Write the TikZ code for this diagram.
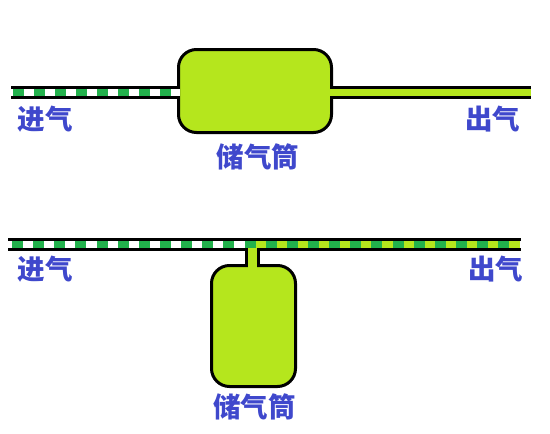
\documentclass[tikz,border=0pt]{standalone}
\usepackage{fontspec}
\newfontfamily\cjk{Noto Sans CJK SC}
\usepackage{tikz}
\definecolor{gasgreen}{HTML}{22B14C}
\definecolor{tankfill}{HTML}{B5E61D}
\definecolor{labelblue}{HTML}{3F48CC}
\tikzset{
	pipewall/.style={line width=3pt},
	tankbox/.style={draw, line width=3pt, fill=tankfill, rounded corners=18pt},
	gaslabel/.style={text=labelblue, inner sep=0pt, font=\cjk\bfseries\fontsize{27.5}{27.5}\selectfont}
}

\begin{document}
\begin{tikzpicture}[x=1pt,y=-1pt]
	\useasboundingbox (0,0) rectangle (550,434);
	
	% Upper layout: pipe through the tank
	\coordinate (inA) at (11,87.5);
	\coordinate (inB) at (11,97.5);
	\coordinate (outA) at (531,87.5);
	\coordinate (outB) at (531,97.5);
	\fill[tankfill] (255,89) rectangle (531,96);
	\foreach \x in {13,34,55,76,97,118,139,160}
		\fill[gasgreen] (\x,89) rectangle +(11,7);
	\draw[pipewall] (inA) -- (outA);
	\draw[pipewall] (inB) -- (outB);
	\node[tankbox, minimum width=153pt, minimum height=83pt] (tankUp) at (255,91) {};
	% Pipe mouths cut through the tank wall
	\fill[white] (171,89) rectangle (180,96);
	\fill[tankfill] (329,89) rectangle (335,96);
	\node[gaslabel] (inUp) at (45,119.5) {进气};
	\node[gaslabel] (outUp) at (492.5,119) {出气};
	\node[gaslabel] (nameUp) at (258,157) {储气筒};
	
	% Lower layout: tank on a side branch
	\coordinate (inC) at (8,239.5);
	\coordinate (inD) at (8,249.5);
	\coordinate (outC) at (521,239.5);
	\coordinate (outD) at (521,249.5);
	\fill[tankfill] (245,241) rectangle (520,248);
	\foreach \k in {0,...,23}
		\fill[gasgreen] ({12+21.14*\k},241) rectangle +(11,7);
	\draw[pipewall] (inC) -- (outC);
	\draw[pipewall] (inD) -- (outD);
	\node[tankbox, minimum width=84pt, minimum height=121pt] (tankLow) at (253.5,326) {};
	\coordinate (stemA) at (246.5,248);
	\coordinate (stemB) at (258.5,248);
	\fill[tankfill] (248,248) rectangle (257,268);
	\draw[pipewall] (stemA) -- (stemA |- tankLow.north);
	\draw[pipewall] (stemB) -- (stemB |- tankLow.north);
	\node[gaslabel] (inLow) at (45,269.5) {进气};
	\node[gaslabel] (outLow) at (495.5,269.5) {出气};
	\node[gaslabel] (nameLow) at (254.5,407) {储气筒};
\end{tikzpicture}
\end{document}
